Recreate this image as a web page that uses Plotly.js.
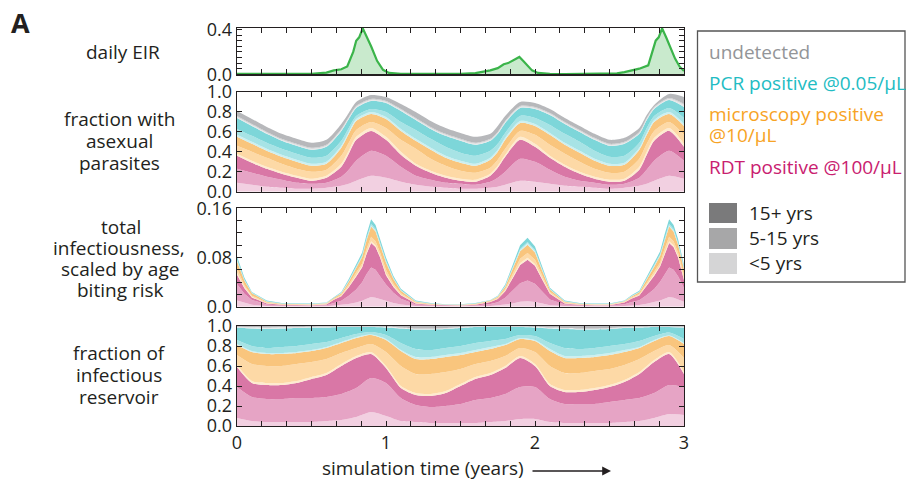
<!DOCTYPE html>
<html><head><meta charset="utf-8">
<script src="https://cdn.plot.ly/plotly-3.0.1.min.js"></script>
<style>html,body{margin:0;padding:0;background:#fff;}#chart{width:906px;height:489px;}</style>
</head><body><div id="chart"></div><script>
// ---------- DATA ----------
// daily EIR
const eirX = [0,0.1,0.2,0.3,0.4,0.5,0.55,0.6,0.65,0.7,0.74,0.78,0.8,0.82,0.844,0.87,0.9,0.94,0.98,1.02,1.1,1.2,1.3,1.4,1.5,1.6,1.65,1.7,1.75,1.79,1.82,1.85,1.87,1.895,1.92,1.95,1.98,2.02,2.1,2.2,2.3,2.4,2.5,2.55,2.6,2.65,2.7,2.76,2.79,2.81,2.83,2.853,2.88,2.91,2.94,2.97,3.0];
const eirY = [0.003,0.002,0.002,0.002,0.003,0.005,0.008,0.015,0.035,0.045,0.07,0.2,0.3,0.33,0.41,0.34,0.25,0.12,0.04,0.012,0.004,0.003,0.002,0.002,0.003,0.01,0.02,0.035,0.055,0.09,0.1,0.12,0.135,0.155,0.12,0.075,0.035,0.012,0.004,0.002,0.002,0.002,0.004,0.008,0.02,0.035,0.05,0.08,0.22,0.3,0.33,0.41,0.33,0.24,0.14,0.07,0.03];

// fraction with asexual parasites: upper edge of each stacked band
const parX = [0,0.1,0.2,0.3,0.4,0.5,0.6,0.7,0.75,0.8,0.9,1.0,1.1,1.2,1.3,1.4,1.5,1.6,1.7,1.75,1.8,1.9,2.0,2.1,2.2,2.3,2.4,2.5,2.6,2.7,2.75,2.8,2.9,3.0];
const parRdtU5   = [0.09,0.07,0.05,0.04,0.03,0.03,0.04,0.06,0.08,0.11,0.16,0.14,0.10,0.07,0.05,0.04,0.03,0.03,0.04,0.05,0.07,0.11,0.10,0.08,0.06,0.05,0.04,0.03,0.04,0.06,0.08,0.11,0.16,0.13];
const parRdt515  = [0.23,0.19,0.15,0.12,0.09,0.08,0.09,0.15,0.22,0.31,0.41,0.36,0.25,0.16,0.12,0.09,0.08,0.07,0.10,0.14,0.20,0.33,0.30,0.22,0.15,0.11,0.09,0.07,0.08,0.14,0.22,0.31,0.41,0.31];
const parRdt15   = [0.36,0.29,0.23,0.18,0.14,0.11,0.14,0.25,0.38,0.52,0.61,0.52,0.37,0.26,0.19,0.14,0.11,0.10,0.16,0.24,0.35,0.52,0.45,0.34,0.25,0.18,0.13,0.10,0.11,0.22,0.37,0.51,0.61,0.45];
const parMicU5   = [0.38,0.31,0.25,0.20,0.16,0.13,0.16,0.28,0.41,0.55,0.64,0.55,0.40,0.28,0.21,0.16,0.13,0.12,0.18,0.26,0.37,0.55,0.48,0.36,0.27,0.20,0.15,0.12,0.13,0.25,0.40,0.54,0.64,0.48];
const parMic515  = [0.46,0.40,0.34,0.28,0.23,0.20,0.22,0.36,0.49,0.62,0.70,0.64,0.52,0.43,0.33,0.26,0.21,0.19,0.24,0.32,0.43,0.61,0.57,0.47,0.38,0.30,0.23,0.19,0.20,0.33,0.48,0.61,0.70,0.57];
const parMic15   = [0.55,0.48,0.41,0.35,0.30,0.26,0.28,0.44,0.58,0.71,0.78,0.73,0.61,0.51,0.42,0.34,0.29,0.26,0.32,0.40,0.52,0.69,0.66,0.57,0.47,0.39,0.31,0.26,0.27,0.42,0.57,0.70,0.78,0.66];
const parPcrU5   = [0.57,0.50,0.43,0.37,0.32,0.28,0.30,0.46,0.60,0.73,0.80,0.75,0.63,0.53,0.44,0.36,0.31,0.28,0.34,0.42,0.54,0.71,0.68,0.59,0.49,0.41,0.33,0.28,0.29,0.44,0.59,0.72,0.80,0.68];
const parPcr515  = [0.63,0.56,0.49,0.43,0.38,0.34,0.36,0.51,0.64,0.76,0.83,0.80,0.70,0.62,0.53,0.45,0.39,0.36,0.41,0.48,0.59,0.76,0.74,0.67,0.58,0.50,0.41,0.35,0.36,0.49,0.64,0.76,0.84,0.74];
const parPcr15   = [0.74,0.66,0.58,0.51,0.46,0.42,0.45,0.61,0.73,0.84,0.91,0.89,0.81,0.72,0.63,0.56,0.51,0.47,0.51,0.58,0.69,0.84,0.83,0.77,0.68,0.60,0.52,0.46,0.48,0.58,0.72,0.83,0.92,0.85];
const parUndU5   = [0.75,0.67,0.59,0.52,0.47,0.43,0.46,0.62,0.74,0.85,0.92,0.90,0.82,0.73,0.64,0.57,0.52,0.48,0.52,0.59,0.70,0.85,0.84,0.78,0.69,0.61,0.53,0.47,0.49,0.59,0.73,0.84,0.93,0.87];
const parUnd515  = [0.76,0.68,0.60,0.53,0.48,0.44,0.47,0.63,0.75,0.86,0.93,0.91,0.83,0.74,0.65,0.58,0.53,0.49,0.53,0.60,0.71,0.86,0.85,0.79,0.70,0.62,0.54,0.48,0.50,0.60,0.74,0.85,0.94,0.88];
const parUnd15   = [0.81,0.73,0.65,0.58,0.53,0.49,0.52,0.68,0.79,0.90,0.97,0.95,0.88,0.80,0.71,0.64,0.59,0.55,0.58,0.66,0.76,0.90,0.89,0.83,0.74,0.66,0.58,0.52,0.54,0.64,0.77,0.87,0.98,0.95];

// total infectiousness, scaled by age biting risk: upper edge of each band
const infX = [0,0.05,0.1,0.2,0.3,0.4,0.5,0.6,0.65,0.7,0.75,0.8,0.84,0.87,0.9,0.93,0.96,1.0,1.05,1.1,1.2,1.3,1.4,1.5,1.6,1.7,1.75,1.8,1.85,1.9,1.95,2.0,2.05,2.1,2.2,2.3,2.4,2.5,2.6,2.65,2.7,2.75,2.8,2.84,2.87,2.9,2.93,2.96,3.0];
const infRdtU5  = [0.010,0.006,0.003,0.001,0.0006,0.0005,0.0005,0.0007,0.0016,0.0024,0.0045,0.007,0.0097,0.013,0.0156,0.0146,0.0121,0.0096,0.006,0.0035,0.001,0.0006,0.0004,0.0004,0.0006,0.0011,0.0018,0.0036,0.0054,0.008,0.009,0.0078,0.0051,0.0025,0.001,0.0006,0.0005,0.0005,0.001,0.0019,0.0026,0.0048,0.0072,0.0099,0.013,0.0156,0.0146,0.0121,0.0082];
const infRdt515 = [0.037,0.021,0.011,0.0035,0.0021,0.0018,0.0018,0.0025,0.0064,0.0096,0.018,0.028,0.0396,0.0531,0.0639,0.0599,0.0495,0.036,0.0225,0.013,0.0035,0.0021,0.0014,0.0014,0.0021,0.0044,0.0072,0.0144,0.0258,0.038,0.0426,0.0372,0.0243,0.0118,0.0035,0.0021,0.0018,0.0018,0.004,0.0076,0.0104,0.0192,0.0288,0.0405,0.0531,0.0639,0.0599,0.0495,0.0306];
const infRdt15  = [0.052,0.030,0.015,0.005,0.003,0.0025,0.0025,0.0035,0.0112,0.0168,0.0315,0.049,0.0642,0.0861,0.1037,0.0971,0.0803,0.0512,0.032,0.0186,0.005,0.003,0.002,0.002,0.003,0.0077,0.0126,0.0252,0.0462,0.068,0.0762,0.0666,0.0435,0.0211,0.005,0.003,0.0025,0.0025,0.007,0.0133,0.0182,0.0336,0.0504,0.0657,0.0861,0.1037,0.0971,0.0803,0.0435];
const infMicU5  = [0.055,0.032,0.016,0.0055,0.0033,0.0028,0.0028,0.0039,0.0117,0.0175,0.0329,0.0511,0.066,0.0885,0.1065,0.0998,0.0825,0.0536,0.0335,0.0194,0.0055,0.0033,0.0022,0.0022,0.0033,0.008,0.0131,0.0263,0.0483,0.071,0.0795,0.0696,0.0454,0.022,0.0055,0.0033,0.0028,0.0028,0.0073,0.0139,0.019,0.035,0.0526,0.0675,0.0885,0.1065,0.0998,0.0825,0.0456];
const infMic515 = [0.062,0.035,0.018,0.0068,0.0041,0.0034,0.0034,0.0048,0.0128,0.0192,0.036,0.056,0.0704,0.0944,0.1136,0.1064,0.088,0.06,0.0375,0.0218,0.0068,0.0041,0.0027,0.0027,0.0041,0.0088,0.0144,0.0288,0.053,0.078,0.0874,0.0764,0.0499,0.0242,0.0068,0.0041,0.0034,0.0034,0.008,0.0152,0.0208,0.0384,0.0576,0.072,0.0944,0.1136,0.1064,0.088,0.051];
const infMic15  = [0.074,0.042,0.022,0.0082,0.0049,0.0041,0.0041,0.0057,0.0144,0.0216,0.0405,0.063,0.081,0.1086,0.1306,0.1224,0.1012,0.072,0.045,0.0261,0.0082,0.0049,0.0033,0.0033,0.0049,0.0099,0.0162,0.0324,0.0612,0.090,0.1008,0.0882,0.0576,0.0279,0.0082,0.0049,0.0041,0.0041,0.009,0.0171,0.0234,0.0432,0.0648,0.0828,0.1086,0.1306,0.1224,0.1012,0.0612];
const infPcrU5  = [0.075,0.043,0.022,0.0086,0.0052,0.0043,0.0043,0.006,0.0147,0.0221,0.0414,0.0644,0.0818,0.1097,0.1321,0.1237,0.1023,0.0736,0.046,0.0267,0.0086,0.0052,0.0034,0.0034,0.0052,0.0101,0.0166,0.0331,0.0626,0.092,0.103,0.0902,0.0589,0.0285,0.0086,0.0052,0.0043,0.0043,0.0092,0.0175,0.0239,0.0442,0.0662,0.0837,0.1097,0.1321,0.1237,0.1023,0.0626];
const infPcr515 = [0.077,0.044,0.023,0.009,0.0054,0.0045,0.0045,0.0063,0.015,0.0226,0.0423,0.0658,0.0836,0.1121,0.1349,0.1264,0.1045,0.0752,0.047,0.0273,0.009,0.0054,0.0036,0.0036,0.0054,0.0103,0.0169,0.0338,0.0639,0.094,0.1053,0.0921,0.0602,0.0291,0.009,0.0054,0.0045,0.0045,0.0094,0.0179,0.0244,0.0451,0.0677,0.0855,0.1121,0.1349,0.1264,0.1045,0.0639];
const infPcr15  = [0.082,0.047,0.024,0.010,0.006,0.005,0.005,0.007,0.016,0.024,0.045,0.070,0.088,0.118,0.142,0.133,0.110,0.080,0.050,0.029,0.010,0.006,0.004,0.004,0.006,0.011,0.018,0.036,0.068,0.100,0.112,0.098,0.064,0.031,0.010,0.006,0.005,0.005,0.010,0.019,0.026,0.048,0.072,0.090,0.118,0.142,0.133,0.110,0.068];

// fraction of infectious reservoir: upper edge of each band
const resX = [0,0.1,0.2,0.3,0.4,0.5,0.6,0.7,0.8,0.9,1.0,1.1,1.2,1.3,1.4,1.5,1.6,1.7,1.8,1.9,2.0,2.1,2.2,2.3,2.4,2.5,2.6,2.7,2.8,2.9,3.0];
const resRdtU5  = [0.08,0.05,0.04,0.04,0.04,0.04,0.05,0.06,0.09,0.14,0.10,0.05,0.04,0.03,0.03,0.03,0.03,0.04,0.05,0.07,0.07,0.04,0.03,0.03,0.03,0.03,0.04,0.05,0.08,0.12,0.11];
const resRdt515 = [0.39,0.29,0.27,0.27,0.28,0.28,0.29,0.32,0.38,0.48,0.43,0.28,0.21,0.19,0.20,0.22,0.26,0.28,0.32,0.39,0.39,0.27,0.22,0.22,0.22,0.24,0.26,0.28,0.33,0.41,0.39];
const resRdt15  = [0.59,0.43,0.41,0.41,0.43,0.47,0.51,0.60,0.68,0.72,0.58,0.38,0.31,0.30,0.33,0.40,0.47,0.51,0.58,0.68,0.60,0.40,0.34,0.34,0.36,0.39,0.44,0.52,0.64,0.72,0.52];
const resMicU5  = [0.61,0.45,0.43,0.43,0.45,0.49,0.53,0.62,0.70,0.74,0.60,0.40,0.33,0.32,0.35,0.42,0.49,0.53,0.60,0.70,0.62,0.42,0.36,0.36,0.38,0.41,0.46,0.54,0.66,0.74,0.54];
const resMic515 = [0.71,0.62,0.60,0.60,0.62,0.64,0.67,0.73,0.78,0.82,0.74,0.60,0.52,0.52,0.54,0.57,0.62,0.65,0.70,0.78,0.74,0.60,0.53,0.53,0.55,0.57,0.61,0.67,0.75,0.81,0.68];
const resMic15  = [0.81,0.74,0.72,0.72,0.73,0.75,0.78,0.83,0.88,0.91,0.86,0.75,0.67,0.67,0.69,0.71,0.74,0.77,0.81,0.87,0.85,0.75,0.68,0.68,0.69,0.71,0.74,0.78,0.85,0.90,0.82];
const resPcrU5  = [0.82,0.75,0.73,0.73,0.74,0.76,0.79,0.84,0.89,0.915,0.87,0.76,0.69,0.69,0.71,0.73,0.76,0.79,0.82,0.88,0.86,0.77,0.70,0.70,0.71,0.73,0.76,0.79,0.86,0.905,0.83];
const resPcr515 = [0.86,0.80,0.78,0.79,0.80,0.82,0.84,0.88,0.92,0.94,0.91,0.83,0.77,0.76,0.78,0.80,0.83,0.85,0.87,0.91,0.90,0.83,0.78,0.77,0.78,0.80,0.82,0.85,0.90,0.935,0.87];
const resPcr15  = [0.985,0.975,0.97,0.975,0.98,0.985,0.985,0.99,0.99,0.99,0.985,0.975,0.965,0.965,0.97,0.98,0.99,0.99,0.99,0.99,0.985,0.975,0.97,0.965,0.965,0.97,0.98,0.985,0.99,0.99,0.985];
const resUndU5  = [0.99,0.985,0.98,0.985,0.985,0.99,0.99,0.993,0.993,0.993,0.99,0.98,0.97,0.97,0.975,0.985,0.993,0.993,0.993,0.993,0.99,0.98,0.975,0.97,0.97,0.975,0.985,0.99,0.993,0.993,0.99];
const resUnd515 = [0.993,0.99,0.99,0.99,0.99,0.993,0.995,0.996,0.996,0.996,0.993,0.985,0.975,0.975,0.98,0.99,0.996,0.996,0.996,0.996,0.993,0.985,0.98,0.975,0.975,0.98,0.99,0.993,0.996,0.996,0.993];
const resUnd15  = [1,1,1,1,1,1,1,1,1,1,1,1,1,1,1,1,1,1,1,1,1,1,1,1,1,1,1,1,1,1,1];

// tick labels
const yTicksFrac = [0,0.2,0.4,0.6,0.8,1.0];
const yTextFrac = ['0.0','0.2','0.4','0.6','0.8','1.0'];
const yTicksEir = [0,0.05,0.1,0.15,0.2,0.25,0.3,0.35,0.4];
const yTextEir = ['0.0','','','','','','','','0.4'];
const yTicksInf = [0,0.02,0.04,0.06,0.08,0.1,0.12,0.14,0.16];
const yTextInf = ['0.0','','','','0.08','','','','0.16'];

// ---------- STYLE ----------
const FONT = '"Open Sans", "Noto Sans", sans-serif';
const INK = '#231f20';
const bandColors = ['#f2d0e1','#e6a4c5','#d977a6','#feebcf','#fdd9a6','#f9c57d','#cdeff0','#a7e3e5','#7dd6d9','#e6e7e8','#d1d2d4','#b7b8bb'];
const W = 906, H = 489;
const px = x => x / W, py = y => 1 - y / H;
const XD = [px(237), px(684)];

const traces = [];
traces.push({x: eirX, y: eirY, type: 'scatter', mode: 'lines', fill: 'tozeroy',
  fillcolor: 'rgba(60,180,75,0.28)', line: {color: '#3bb44a', width: 2.2},
  xaxis: 'x', yaxis: 'y', hoverinfo: 'skip'});

function addBands(xs, bands, n, shape) {
  bands.forEach((b, i) => {
    traces.push({x: xs, y: b, type: 'scatter', mode: 'lines',
      fill: i === 0 ? 'tozeroy' : 'tonexty', fillcolor: bandColors[i],
      line: {width: 0, shape: shape, smoothing: 0.7},
      xaxis: 'x' + n, yaxis: 'y' + n, hoverinfo: 'skip'});
  });
}
addBands(parX, [parRdtU5, parRdt515, parRdt15, parMicU5, parMic515, parMic15, parPcrU5, parPcr515, parPcr15, parUndU5, parUnd515, parUnd15], 2, 'spline');
addBands(infX, [infRdtU5, infRdt515, infRdt15, infMicU5, infMic515, infMic15, infPcrU5, infPcr515, infPcr15], 3, 'linear');
addBands(resX, [resRdtU5, resRdt515, resRdt15, resMicU5, resMic515, resMic15, resPcrU5, resPcr515, resPcr15, resUndU5, resUnd515, resUnd15], 4, 'spline');

const monthTicks = Array.from({length: 19}, (_, i) => i / 6);
function xAxis(anchor, labels) {
  return {domain: XD, range: [0, 3], anchor: anchor, showline: true, linecolor: INK, linewidth: 1.3,
    mirror: 'allticks', ticks: 'inside', ticklen: 5, tickwidth: 1, tickcolor: INK,
    tickmode: 'array', tickvals: monthTicks,
    ticktext: monthTicks.map((v, i) => (i % 6 === 0) ? String(i / 6) : ''),
    showticklabels: labels, showgrid: false, zeroline: false,
    tickfont: {family: FONT, size: 18, color: INK}, fixedrange: true};
}
function yAxis(anchor, dom, range, vals, texts) {
  return {domain: dom, range: range, anchor: anchor, showline: true, linecolor: INK, linewidth: 1.3,
    mirror: 'allticks', ticks: 'inside', ticklen: 5, tickwidth: 1, tickcolor: INK,
    tickmode: 'array', tickvals: vals, ticktext: texts, showgrid: false, zeroline: false,
    tickfont: {family: FONT, size: 18, color: INK}, fixedrange: true};
}

const annotations = [];
function txt(s, x, y, opts) {
  annotations.push(Object.assign({text: s, x: px(x), y: py(y), xref: 'paper', yref: 'paper',
    showarrow: false, xanchor: 'center', yanchor: 'middle',
    font: {family: FONT, size: 19, color: INK}}, opts || {}));
}
txt('<b>A</b>', 20, 23, {font: {family: FONT, size: 27, color: INK}});
txt('daily EIR', 123, 52);
txt('fraction with', 119, 119); txt('asexual', 119, 141); txt('parasites', 119, 163);
txt('total', 121, 227); txt('infectiousness,', 119, 248); txt('scaled by age', 120, 269); txt('biting risk', 121, 290);
txt('fraction of', 119, 353); txt('infectious', 119, 375); txt('reservoir', 119, 397);
txt('simulation time (years)', 423, 468);
annotations.push({text: '', x: px(611), y: py(471), ax: -80, ay: 0, xref: 'paper', yref: 'paper',
  showarrow: true, arrowhead: 2, arrowsize: 1.1, arrowwidth: 1.6, arrowcolor: INK});

// legend
const legL = 707;
txt('undetected', legL, 52, {xanchor: 'left', font: {family: FONT, size: 19, color: '#939598'}});
txt('PCR positive @0.05/µL', legL, 83, {xanchor: 'left', font: {family: FONT, size: 19, color: '#22bcc3'}});
txt('microscopy positive', legL, 114, {xanchor: 'left', font: {family: FONT, size: 19, color: '#f7a325'}});
txt('@10/µL', legL, 135, {xanchor: 'left', font: {family: FONT, size: 19, color: '#f7a325'}});
txt('RDT positive @100/µL', legL, 167, {xanchor: 'left', font: {family: FONT, size: 19, color: '#c9206f'}});
txt('15+ yrs', 747, 213, {xanchor: 'left'});
txt('5-15 yrs', 747, 238, {xanchor: 'left'});
txt('<5 yrs', 747, 263, {xanchor: 'left'});

const shapes = [
  {type: 'rect', xref: 'paper', yref: 'paper', x0: px(697.5), x1: px(905), y0: py(282), y1: py(31),
   line: {color: '#555555', width: 1.3}, fillcolor: 'rgba(0,0,0,0)'},
  {type: 'rect', xref: 'paper', yref: 'paper', x0: px(709), x1: px(737), y0: py(223), y1: py(203),
   line: {width: 0}, fillcolor: '#7a7a7b'},
  {type: 'rect', xref: 'paper', yref: 'paper', x0: px(709), x1: px(737), y0: py(249), y1: py(228),
   line: {width: 0}, fillcolor: '#a7a7a8'},
  {type: 'rect', xref: 'paper', yref: 'paper', x0: px(709), x1: px(737), y0: py(274), y1: py(253),
   line: {width: 0}, fillcolor: '#d5d5d6'}
];

const layout = {
  width: W, height: H, margin: {l: 0, r: 0, t: 0, b: 0},
  paper_bgcolor: '#ffffff', plot_bgcolor: 'rgba(0,0,0,0)', showlegend: false,
  font: {family: FONT, color: INK},
  xaxis: xAxis('y', false), xaxis2: xAxis('y2', false), xaxis3: xAxis('y3', false), xaxis4: xAxis('y4', true),
  yaxis: yAxis('x', [py(74.3), py(28)], [0, 0.413], yTicksEir, yTextEir),
  yaxis2: yAxis('x2', [py(191.7), py(92)], [0, 1], yTicksFrac, yTextFrac),
  yaxis3: yAxis('x3', [py(306.7), py(208.3)], [0, 0.16], yTicksInf, yTextInf),
  yaxis4: yAxis('x4', [py(426), py(326)], [0, 1], yTicksFrac, yTextFrac),
  annotations: annotations, shapes: shapes
};
Plotly.newPlot('chart', traces, layout, {displayModeBar: false, staticPlot: true});
</script></body></html>
